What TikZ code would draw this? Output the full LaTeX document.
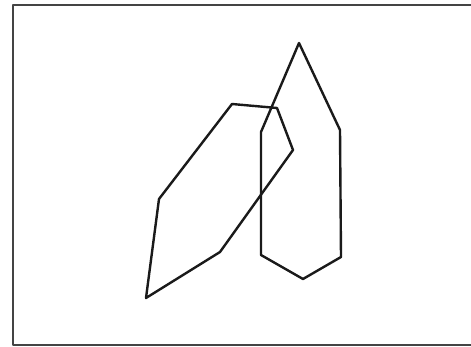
\documentclass[tikz,border=0pt]{standalone}
\usepackage{tikz}
\definecolor{frameline}{HTML}{444444}
\definecolor{penline}{HTML}{1A1A1A}

\begin{document}
\begin{tikzpicture}[x=1pt,y=-1pt,line join=round,
  frame/.style={draw=frameline,line width=1.5pt},
  outline/.style={draw=penline,line width=2.4pt}]
\useasboundingbox (0,0) rectangle (471,347);
% frame, open on the right
\draw[frame] (471,5) -- (13,5) -- (13,345) -- (471,345);
% tall polygon
\coordinate (t1) at (299,43);
\coordinate (t2) at (340,130);
\coordinate (t3) at (341,257);
\coordinate (t4) at (303,279);
\coordinate (t5) at (261,255);
\coordinate (t6) at (261,132);
\draw[outline] (t1) -- (t2) -- (t3) -- (t4) -- (t5) -- (t6) -- cycle;
% slanted polygon
\coordinate (s1) at (232,104);
\coordinate (s2) at (277,108);
\coordinate (s3) at (293,150);
\coordinate (s4) at (220,252);
\coordinate (s5) at (146,298);
\coordinate (s6) at (159,199);
\draw[outline] (s1) -- (s2) -- (s3) -- (s4) -- (s5) -- (s6) -- cycle;
\end{tikzpicture}
\end{document}
